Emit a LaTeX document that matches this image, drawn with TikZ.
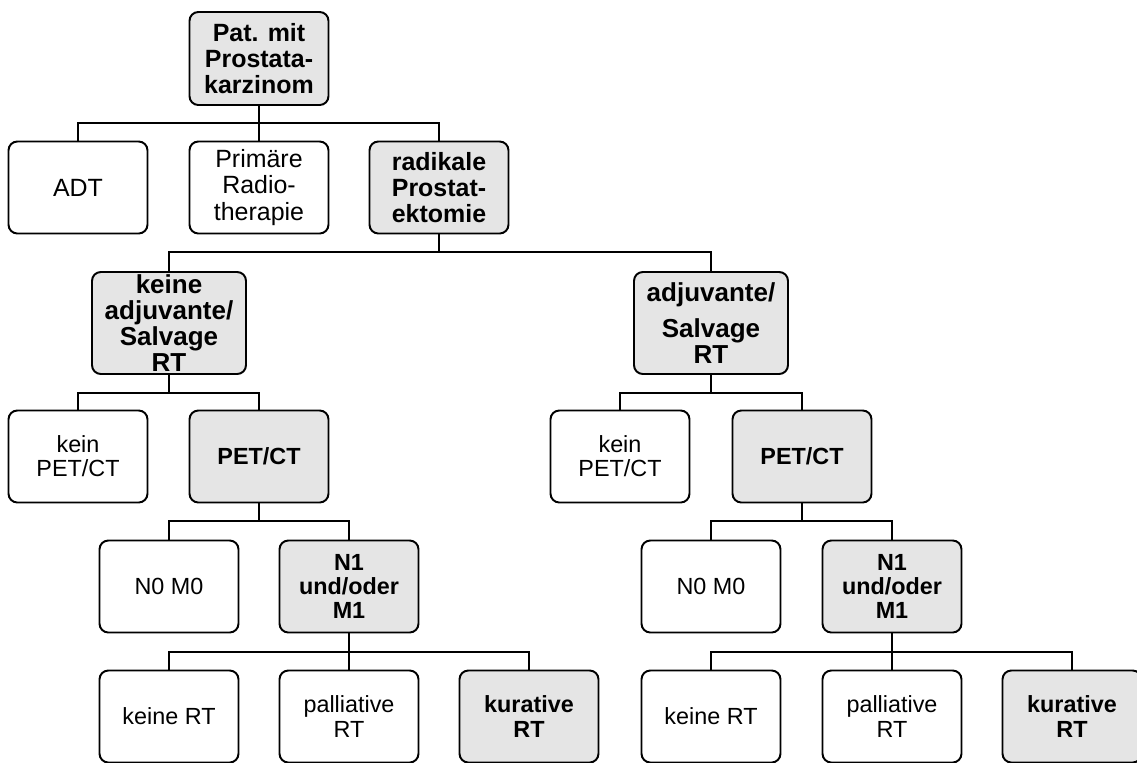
\documentclass[tikz,border=0pt]{standalone}
\usepackage{fontspec}
\setmainfont{Liberation Sans}
\begin{document}
\begin{tikzpicture}[x=0.02cm,y=-0.02cm,
  box/.style={draw,line width=1.1pt,rounded corners=5pt,minimum width=2.78cm,
    minimum height=1.84cm,align=center,inner sep=1pt},
  grey/.style={box,fill=black!10,execute at begin node=\bfseries},
  upper/.style={font=\fontsize{14.2}{15}\selectfont},
  middle/.style={font=\fontsize{14.8}{14.8}\selectfont,
    minimum width=3.08cm,minimum height=2.04cm},
  lower/.style={font=\fontsize{13.3}{13.8}\selectfont},
  link/.style={line width=1pt}]
\useasboundingbox (0,0) rectangle (1137,762);
% boxes
\node[grey,upper,minimum height=1.86cm] (root) at (259,58.5) {Pat. mit\\Prostata-\\karzinom};
\node[box,upper] (adt) at (78,187.5) {ADT};
\node[box,upper] (prim) at (259,187.5) {Primäre\\Radio-\\therapie};
\node[grey,upper] (rad) at (439,187.5) {radikale\\Prostat-\\ektomie};
\node[grey,middle] (kadj) at (169,323) {keine\\adjuvante/\\Salvage\\RT};
\node[grey,middle] (adj) at (711,323) {adjuvante/\\[6pt]Salvage\\RT};
\node[box,lower] (kpetL) at (78,456.5) {kein\\PET/CT};
\node[grey,lower] (petL) at (259,456.5) {PET/CT};
\node[box,lower] (kpetR) at (620,456.5) {kein\\PET/CT};
\node[grey,lower] (petR) at (802,456.5) {PET/CT};
\node[box,lower] (nullL) at (169,586.5) {N0 M0};
\node[grey,lower] (einsL) at (349,586.5) {N1\\und/oder\\M1};
\node[box,lower] (nullR) at (711,586.5) {N0 M0};
\node[grey,lower] (einsR) at (892,586.5) {N1\\und/oder\\M1};
\node[box,lower] (keineL) at (169,716.5) {keine RT};
\node[box,lower] (pallL) at (349,716.5) {palliative\\RT};
\node[grey,lower] (kurL) at (529,716.5) {kurative\\RT};
\node[box,lower] (keineR) at (711,716.5) {keine RT};
\node[box,lower] (pallR) at (892,716.5) {palliative\\RT};
\node[grey,lower] (kurR) at (1072,716.5) {kurative\\RT};
% bus lines
\coordinate (bus1) at (0,123);
\coordinate (bus2) at (0,252);
\coordinate (bus3) at (0,393);
\coordinate (bus4) at (0,521);
\coordinate (bus5) at (0,652);
% connectors
\draw[link] (root.south) -- (root.south |- bus1);
\draw[link] (adt.north) |- (rad.north |- bus1) -- (rad.north);
\draw[link] (prim.north) -- (prim.north |- bus1);
\draw[link] (rad.south) -- (rad.south |- bus2);
\draw[link] (kadj.north) |- (adj.north |- bus2) -- (adj.north);
\draw[link] (kadj.south) -- (kadj.south |- bus3);
\draw[link] (kpetL.north) |- (petL.north |- bus3) -- (petL.north);
\draw[link] (adj.south) -- (adj.south |- bus3);
\draw[link] (kpetR.north) |- (petR.north |- bus3) -- (petR.north);
\draw[link] (petL.south) -- (petL.south |- bus4);
\draw[link] (nullL.north) |- (einsL.north |- bus4) -- (einsL.north);
\draw[link] (petR.south) -- (petR.south |- bus4);
\draw[link] (nullR.north) |- (einsR.north |- bus4) -- (einsR.north);
\draw[link] (einsL.south) -- (pallL.north);
\draw[link] (keineL.north) |- (kurL.north |- bus5) -- (kurL.north);
\draw[link] (einsR.south) -- (pallR.north);
\draw[link] (keineR.north) |- (kurR.north |- bus5) -- (kurR.north);
\end{tikzpicture}
\end{document}
